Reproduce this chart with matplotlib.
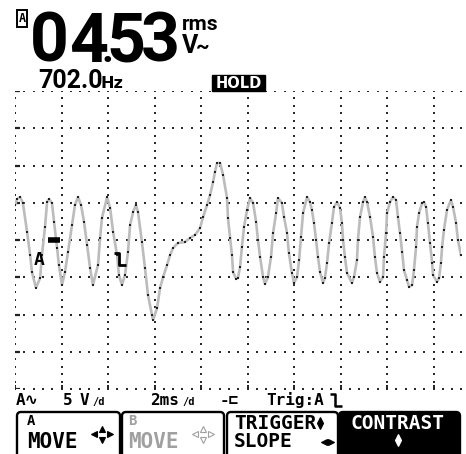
import matplotlib
matplotlib.use("Agg")
import matplotlib.pyplot as plt
import numpy as np
from matplotlib.patches import FancyBboxPatch, Rectangle
from matplotlib.path import Path

t_ms = [0.00, 0.09, 0.22, 0.34, 0.52, 0.65, 0.73, 0.90, 1.08, 1.16, 1.29, 1.38, 1.46, 1.59,
        1.68, 1.81, 1.89, 2.02, 2.15, 2.28, 2.45, 2.58, 2.71, 2.84, 2.97, 3.10, 3.23, 3.35,
        3.57, 3.66, 3.74, 3.96, 4.09, 4.22, 4.39, 4.47, 4.60, 4.73, 4.86, 4.95, 5.08, 5.20,
        5.29, 5.46, 5.59, 5.72, 5.89, 5.94, 6.11, 6.24, 6.37, 6.54, 6.67, 6.80, 7.01, 7.31,
        7.53, 7.74, 7.96, 8.09, 8.26, 8.39, 8.52, 8.60, 8.69, 8.82, 8.95, 9.12, 9.16, 9.25,
        9.33, 9.38, 9.51, 9.59, 9.68, 9.76, 9.85, 9.98, 10.11, 10.24, 10.37, 10.45, 10.54,
        10.67, 10.75, 10.88, 11.01, 11.10, 11.23, 11.31, 11.48, 11.57, 11.70, 11.78, 11.91,
        12.00, 12.13, 12.22, 12.30, 12.39, 12.56, 12.69, 12.77, 12.86, 12.95, 13.03, 13.12,
        13.25, 13.33, 13.42, 13.51, 13.63, 13.72, 13.85, 13.98, 14.06, 14.11, 14.19, 14.28,
        14.49, 14.58, 14.71, 14.75, 14.84, 14.97, 15.05, 15.14, 15.27, 15.40, 15.48, 15.57,
        15.70, 15.83, 15.87, 15.96, 16.00, 16.13, 16.26, 16.39, 16.47, 16.56, 16.65, 16.73,
        16.86, 16.95, 17.08, 17.16, 17.25, 17.29, 17.38, 17.51, 17.59, 17.68, 17.76, 17.85,
        17.94, 17.98, 18.15, 18.24, 18.32, 18.37, 18.45, 18.58, 18.75, 18.84, 18.97, 19.05,
        19.18]
v_volts = [4.70, 5.50, 5.77, 4.97, 1.07, -2.01, -4.30, -6.44, -5.10, -2.01, 1.74, 5.10, 5.50, 4.97,
           2.42, -1.07, -3.36, -6.04, -4.30, -1.61, 2.01, 4.70, 5.77, 4.70, 2.42, -0.67, -3.76, -6.04,
           -3.36, 0.27, 2.95, 5.77, 4.30, 1.07, -2.01, -4.70, -6.04, -4.70, -1.61, 2.01, 3.76, 4.70,
           3.76, -0.27, -3.76, -7.38, -10.07, -10.74, -9.13, -6.44, -4.97, -3.36, -2.01, -1.07, -0.40, -0.27,
           0.27, 0.67, 1.61, 3.09, 4.70, 6.04, 7.79, 9.13, 10.34, 10.34, 8.72, 5.64, 2.95, 0.27,
           -2.01, -4.30, -5.23, -5.10, -3.62, -0.94, 1.74, 4.03, 5.64, 4.97, 2.42, 0.00, -2.28,
           -4.97, -5.91, -4.97, -2.28, 0.94, 3.62, 5.64, 4.97, 3.09, 0.94, -1.74, -4.43,
           -5.77, -4.97, -2.68, 0.40, 3.62, 5.77, 5.10, 4.03, 2.28, 0.00, -2.28, -4.30,
           -5.77, -5.10, -3.09, -0.40, 2.28, 4.43, 5.10, 4.30, 2.28, 0.00, -2.28, -4.43,
           -5.77, -4.97, -2.68, 0.00, 3.09, 5.10, 5.77, 5.10, 3.09, 0.40, -2.28, -4.43,
           -5.64, -4.97, -2.28, 0.94, 3.62, 5.10, 5.77, 5.37, 3.09, 0.94, -1.61, -4.03,
           -5.37, -6.31, -6.04, -4.03, -0.94, 1.74, 3.62, 4.97, 5.10, 4.43, 2.28, -0.40,
           -3.09, -4.70, -5.64, -5.10, -3.09, -0.94, 1.34, 4.03, 5.37, 4.43, 2.28, 0.00,
           -2.01]

volts_per_div = 5
ms_per_div = 2
n_vdiv = 8
screen_ms = 19.2

reading_digits = ["0", "4", "5", "3"]
reading_unit_top = "rms"
reading_unit_bottom = "V"
freq_value = "702.0"
freq_unit = "Hz"
status_label = "HOLD"
trig_t, trig_v = 4.52, -2.55      # trigger point marker
ground_t = 1.66                   # ground level marker (0 V)
label_t, label_v = 1.03, -2.70    # channel label

softkeys = [("A", "MOVE"), ("B", "MOVE"), ("TRIGGER", "SLOPE"), ("CONTRAST", "")]

# ---------------- figure ----------------
W, H = 466, 454
fig = plt.figure(figsize=(W / 100, H / 100), dpi=100)
fig.patch.set_facecolor("white")
BIG = ["Roboto", "DejaVu Sans"]
MONO = ["DejaVu Sans Mono", "DejaVu Sans"]
SANS = ["DejaVu Sans"]

ax = fig.add_axes([15 / W, 1 - 389 / H, 446.4 / W, 298 / H])
vmin, vmax = -volts_per_div * n_vdiv / 2, volts_per_div * n_vdiv / 2
ax.set_xlim(0, screen_ms)
ax.set_ylim(vmin, vmax)
ax.axis("off")

dot = dict(marker="s", s=3.0, color="#2a2a2a", linewidths=0, zorder=1)
for tx in np.arange(0, screen_ms, ms_per_div):
    vs = np.arange(vmin, vmax + 0.01, volts_per_div / 5)
    ax.scatter(np.full_like(vs, tx), vs, **dot)
    ax.plot([tx, tx], [vmin, vmin + 0.6], color="#222", lw=1.4, solid_capstyle="butt")
for vy in np.arange(vmin, vmax + 0.01, volts_per_div):
    ts = np.arange(0, screen_ms + 0.01, ms_per_div / 5)
    ax.scatter(ts, np.full_like(ts, vy), **dot)
    ax.plot([0, 0.22], [vy, vy], color="#222", lw=1.6, solid_capstyle="butt")

# trace
ax.plot(t_ms, v_volts, color="#bcbcbc", lw=1.9, zorder=3)
ax.scatter(t_ms, v_volts, marker="s", s=2.2, color="#222", linewidths=0, zorder=4)

# markers
slope = Path([(-1, 1), (-0.15, 1), (-0.15, -1), (1, -1)],
             [Path.MOVETO, Path.LINETO, Path.LINETO, Path.LINETO])
ax.plot([trig_t], [trig_v], marker=slope, ms=8, mew=2.0, mec="black", mfc="none",
        linestyle="none", zorder=5)
ax.plot([ground_t], [0], marker="_", ms=8, mew=4, color="black", zorder=5)
ax.text(label_t, label_v, "A", ha="center", va="center", fontsize=13, weight="bold",
        family=MONO, zorder=6)

# ---------------- overlay for screen annotations (pixel coords) ----------------
ov = fig.add_axes([0, 0, 1, 1], zorder=10)
ov.set_xlim(0, W)
ov.set_ylim(H, 0)
ov.axis("off")


def T(x, y, s, size, color="black", ha="left", va="baseline", fam=MONO):
    ov.text(x, y, s, fontsize=size, color=color, ha=ha, va=va, weight="bold", family=fam)


def tri(x, y, m, col, ms=5, face=None):
    ov.plot([x], [y], marker=m, ms=ms, mfc=col if face is None else face, mec=col,
            mew=0.8, linestyle="none")


# top-left channel box
ov.add_patch(Rectangle((17, 10), 10, 17, fill=False, lw=1.4, ec="black"))
T(22, 19, "A", 8.5, ha="center", va="center")

# big reading
for cx, d in zip([49, 88.5, 126, 160.5], reading_digits):
    T(cx, 62, d, 49, ha="center", fam=BIG)
T(107, 62, ".", 30, ha="center", fam=BIG)
T(182, 30, reading_unit_top, 15, fam=BIG)
T(182, 53, reading_unit_bottom, 18, fam=BIG)
T(196, 53, "~", 15, fam=BIG)

# frequency
T(38, 88, freq_value, 18, fam=BIG)
T(101, 88, freq_unit, 11.5, fam=SANS)

# HOLD
ov.add_patch(Rectangle((212, 75), 53, 16, color="black"))
T(238.5, 83.5, status_label, 10.5, color="white", ha="center", va="center", fam=SANS)

# status row
T(16, 405, "A∿", 11.5)
T(63, 405, "5", 11.5)
T(80, 405, "V", 11.5)
T(92, 405, "/d", 7.5)
T(150, 405, "2ms", 11.5)
T(182, 405, "/d", 7.5)
T(220, 405, "-⊏", 11.5)
T(266, 405, "Trig:A", 11.5)
ov.plot([336], [400], marker=slope, ms=8, mew=1.8, mec="black", mfc="none", linestyle="none")

# softkey tabs
tabs = [(17, 120), (122, 224), (227, 338), (339, 460)]
for i, (x0, x1) in enumerate(tabs):
    filled = i == 3
    ov.add_patch(FancyBboxPatch((x0, 412), x1 - x0, 60,
                                boxstyle="round,pad=0,rounding_size=4",
                                fc="black" if filled else "white", ec="black", lw=1.7))

# tab 1 / tab 2
for k, (x0, col, cx) in enumerate([(27, "black", 102), (128, "#a0a0a0", 203)]):
    top, bot = softkeys[k]
    T(x0, 425, top, 10, color=col)
    T(x0, 448, bot, 15, color=col)
    face = None if k == 0 else "white"
    tri(cx, 428.5, "^", col, face=face)
    tri(cx, 439.5, "v", col, face=face)
    tri(cx - 8, 434, "<", col, face=face)
    tri(cx + 8, 434, ">", col, face=face)

# tab 3
T(234, 429, softkeys[2][0], 14)
T(234, 447, softkeys[2][1], 14)
tri(320, 419.5, "^", "black")
tri(320, 425.5, "v", "black")
tri(324, 442, "<", "black")
tri(331, 442, ">", "black")

# tab 4
T(398, 429, softkeys[3][0], 14, color="white", ha="center")
tri(398, 436.5, "^", "white")
tri(398, 443, "v", "white")

fig.savefig("out.png", dpi=100, facecolor="white")
